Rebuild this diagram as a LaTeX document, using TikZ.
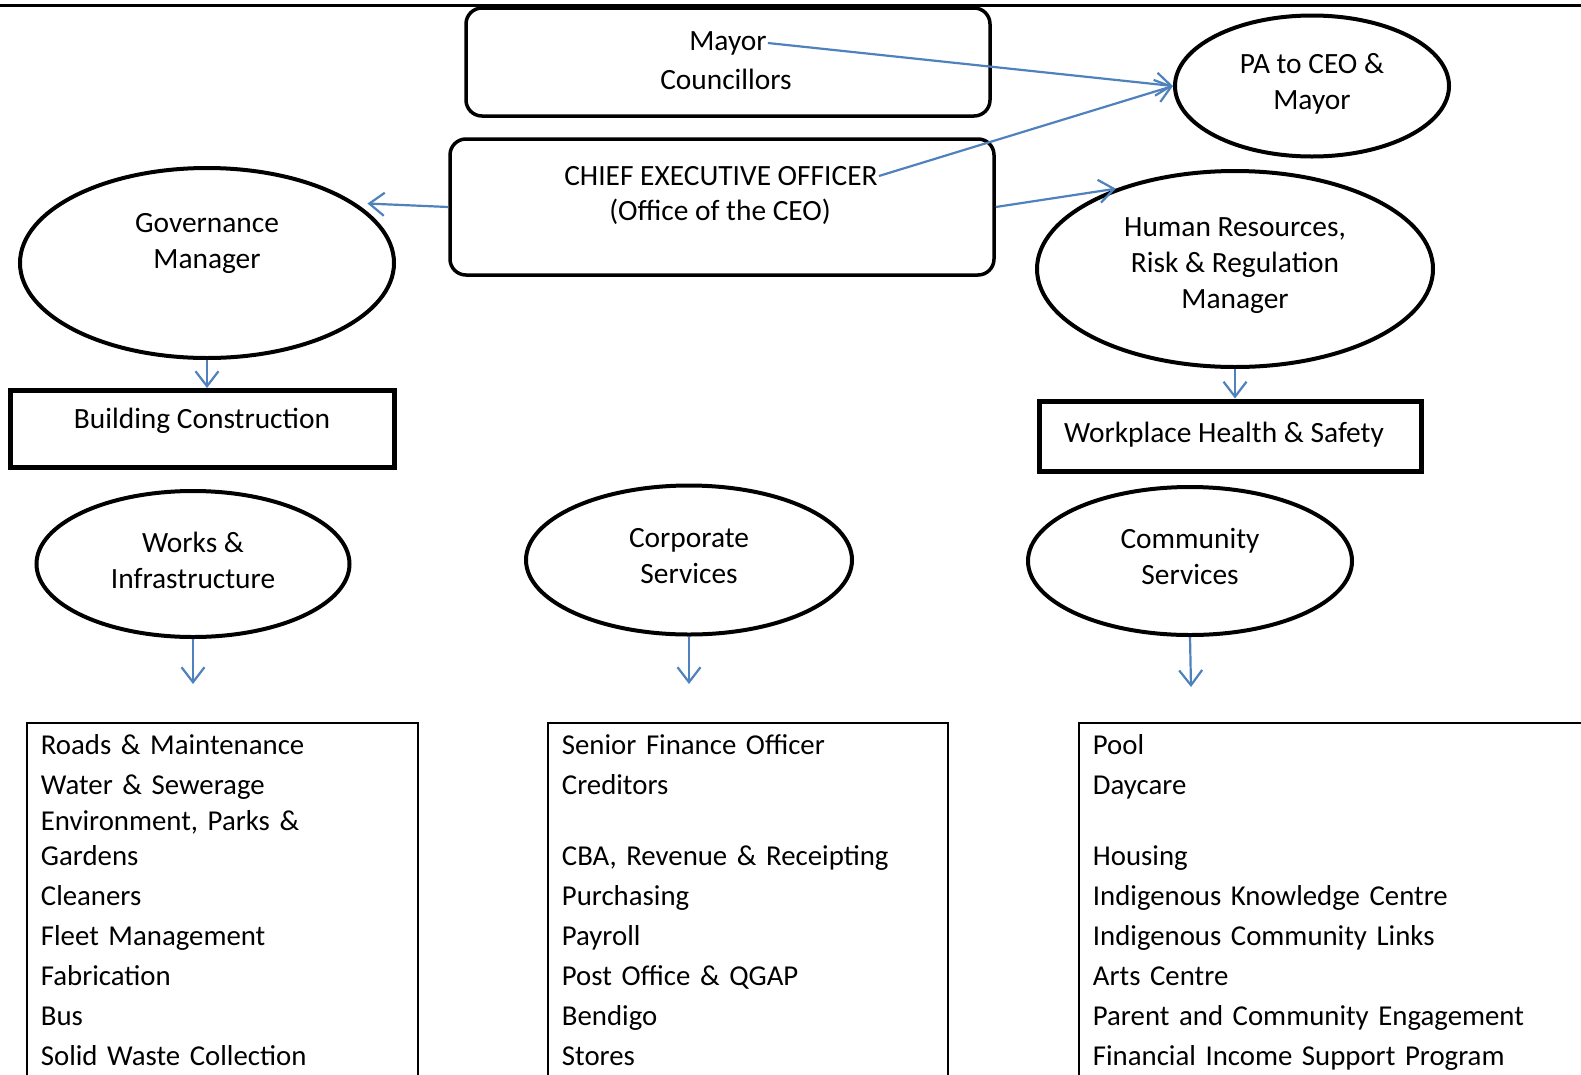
\documentclass[tikz,border=0pt]{standalone}
\usepackage{fontspec}
\setmainfont{Carlito}
\usetikzlibrary{arrows.meta,positioning,shapes.geometric}
\definecolor{linkblue}{RGB}{79,129,189}

\begin{document}
\begin{tikzpicture}[x=1pt, y=-1pt,
    every node/.style={font=\fontsize{29.4}{36}\selectfont},
    txt/.style={align=center, inner sep=1pt},
    rbox/.style={draw, rounded corners=16pt, line width=3.5pt, inner sep=0pt},
    oval/.style={draw, ellipse, line width=4pt, inner sep=0pt},
    unitbox/.style={draw, line width=5pt, inner sep=0pt},
    listbox/.style={draw, line width=1.8pt, anchor=north west, align=left, text depth=340pt,
      inner xsep=14pt, inner ysep=4pt, font=\fontsize{28.8}{40}\selectfont},
    link/.style={draw=linkblue, line width=2.2pt, -{Straight Barb[length=15pt, width=23pt]}}]
    \clip (0,0) rectangle (1581,1074);
    \draw[line width=3pt] (0,5) -- (1581,5);

    % top level
    \node[rbox, minimum width=524pt, minimum height=108pt] (council) at (728,62) {};
    \node[txt] (mayor) at (728,43) {Mayor};
    \node[txt] (councillors) at (726,79) {Councillors};
    \node[rbox, minimum width=544pt, minimum height=136pt] (ceobox) at (722,207) {};
    \node[txt] (ceo) at (721,176) {CHIEF EXECUTIVE OFFICER};
    \node[txt] (office) at (720,212) {(Office of the CEO)};
    \node[oval, minimum width=274pt, minimum height=141pt] (pa) at (1312,86) {};
    \node[txt] (patext) at (1312,84) {PA to CEO \&\\Mayor};

    % managers
    \node[oval, minimum width=374pt, minimum height=190pt] (gov) at (207,263) {};
    \node[txt] (govtext) at (207,243) {Governance\\Manager};
    \node[oval, minimum width=396pt, minimum height=196pt] (hr) at (1235,269) {};
    \node[txt] (hrtext) at (1235,266) {Human Resources,\\Risk \& Regulation\\Manager};
    \node[unitbox, minimum width=384pt, minimum height=77pt] (build) at (202,429) {};
    \node[txt] (buildtext) at (202,421) {Building Construction};
    \node[unitbox, minimum width=382pt, minimum height=70pt] (whs) at (1230,436) {};
    \node[txt] (whstext) at (1224,435) {Workplace Health \& Safety};

    % directorates
    \node[oval, minimum width=313pt, minimum height=146pt] (works) at (193,564) {};
    \node[txt] (workstext) at (193,560) {Works \&\\Infrastructure};
    \node[oval, minimum width=326pt, minimum height=149pt] (corp) at (689,560) {};
    \node[txt] (corptext) at (689,556) {Corporate\\Services};
    \node[oval, minimum width=324pt, minimum height=148pt] (comm) at (1190,561) {};
    \node[txt] (commtext) at (1190,556) {Community\\Services};
    \coordinate (worksend) at (193,684);
    \coordinate (corpend) at (689,684);
    \coordinate (commend) at (1191,687);

    % sections
    \node[listbox, text width=363pt] (worklist) at (26,722) {\strut Roads \& Maintenance\\
      Water \& Sewerage\\[-4pt] Environment, Parks \&\\[-5pt] Gardens\\ Cleaners\\
      Fleet Management\\ Fabrication\\ Bus\\ Solid Waste Collection};
    \node[listbox, text width=372pt] (corplist) at (547,722) {\strut Senior Finance Officer\\
      Creditors\\[31pt] CBA, Revenue \& Receipting\\ Purchasing\\ Payroll\\
      Post Office \& QGAP\\ Bendigo\\ Stores};
    \node[listbox, text width=500pt] (commlist) at (1078,722) {\strut Pool\\
      Daycare\\[31pt] Housing\\ Indigenous Knowledge Centre\\ Indigenous Community Links\\
      Arts Centre\\ Parent and Community Engagement\\ Financial Income Support Program};

    % links
    \draw[link] (mayor.east) -- (pa.west);
    \draw[link] (ceo.east) -- (pa.west);
    \draw[link, shorten >=12pt] (ceobox.west) -- (gov.22);
    \draw[link] (ceobox.east) -- (hr.146);
    \draw[link] (gov.south) -- (gov.south |- build.north);
    \draw[link] (hr.south) -- (hr.south |- whs.north);
    \draw[link] (works.south) -- (worksend);
    \draw[link] (corp.south) -- (corpend);
    \draw[link] (comm.south) -- (commend);
\end{tikzpicture}
\end{document}
